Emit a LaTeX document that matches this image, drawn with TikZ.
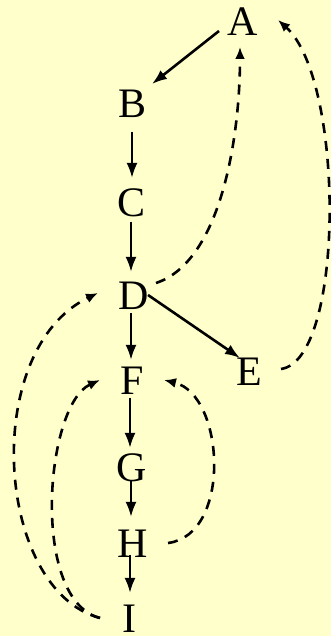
\documentclass[tikz,border=0pt]{standalone}
\usepackage{fontspec}
\setmainfont{Liberation Serif}
\usetikzlibrary{arrows.meta}
\definecolor{bg}{HTML}{FFFFCC}
\begin{document}
\begin{tikzpicture}[x=1pt,y=1pt,
  lett/.style={inner sep=0pt, text height=28pt, text depth=0pt, font=\fontsize{42}{42}\selectfont},
  edge/.style={line width=2.6pt, -{Latex[length=15pt,width=11pt]}},
  back/.style={line width=2.6pt, -{Latex[length=12pt,width=10pt]}, dash pattern=on 10pt off 8pt}]
\fill[bg] (0,0) rectangle (331,636);
\useasboundingbox (0,0) rectangle (331,636);
\node[lett] (A) at (242.5,614.5) {A};
\node[lett] (B) at (133,532.5) {B};
\node[lett] (C) at (131.5,433) {C};
\node[lett] (D) at (133.5,340) {D};
\node[lett] (E) at (249.5,264.5) {E};
\node[lett] (F) at (132.5,255) {F};
\node[lett] (G) at (131.5,168) {G};
\node[lett] (H) at (132.5,92) {H};
\node[lett] (I) at (129.5,17) {I};
% tree edges
\draw[edge] ([shift={(-23.5,-9.5)}]A.center) -- ([shift={(19,19.5)}]B.center);
\draw[edge] ([shift={(-1,-28.5)}]B.center) -- ([shift={(0.5,25)}]C.center);
\draw[edge] ([shift={(-0.5,-19)}]C.center) -- ([shift={(-2.5,24)}]D.center);
\draw[edge] ([shift={(-2.5,-17)}]D.center) -- ([shift={(-1.5,21)}]F.center);
\draw[edge] ([shift={(14.5,1)}]D.center) -- ([shift={(-9.5,13.5)}]E.center);
\draw[edge] ([shift={(-2.5,-17)}]F.center) -- ([shift={(-1.5,20)}]G.center);
\draw[edge] ([shift={(-0.5,-12)}]G.center) -- ([shift={(-1.5,27)}]H.center);
\draw[edge] ([shift={(-2.5,-11)}]H.center) -- ([shift={(0.5,26)}]I.center);
% back edges
\draw[back] ([shift={(22.5,13)}]D.center) .. controls (220,374) and (240,496) .. ([shift={(-2.5,-25.5)}]A.center);
\draw[back] ([shift={(31.5,2.5)}]E.center) .. controls (345,276) and (345,556) .. ([shift={(35.5,1.5)}]A.center);
\draw[back] ([shift={(35.5,1)}]H.center) .. controls (232,101) and (225,241) .. ([shift={(31.5,1)}]F.center);
\draw[back] ([shift={(-29.5,1)}]I.center) .. controls (30,36) and (45,231) .. ([shift={(-32.5,1)}]F.center);
\draw[back] ([shift={(-29.5,1)}]I.center) .. controls (-5,46) and (-20,286) .. ([shift={(-35.5,3)}]D.center);
\end{tikzpicture}
\end{document}
